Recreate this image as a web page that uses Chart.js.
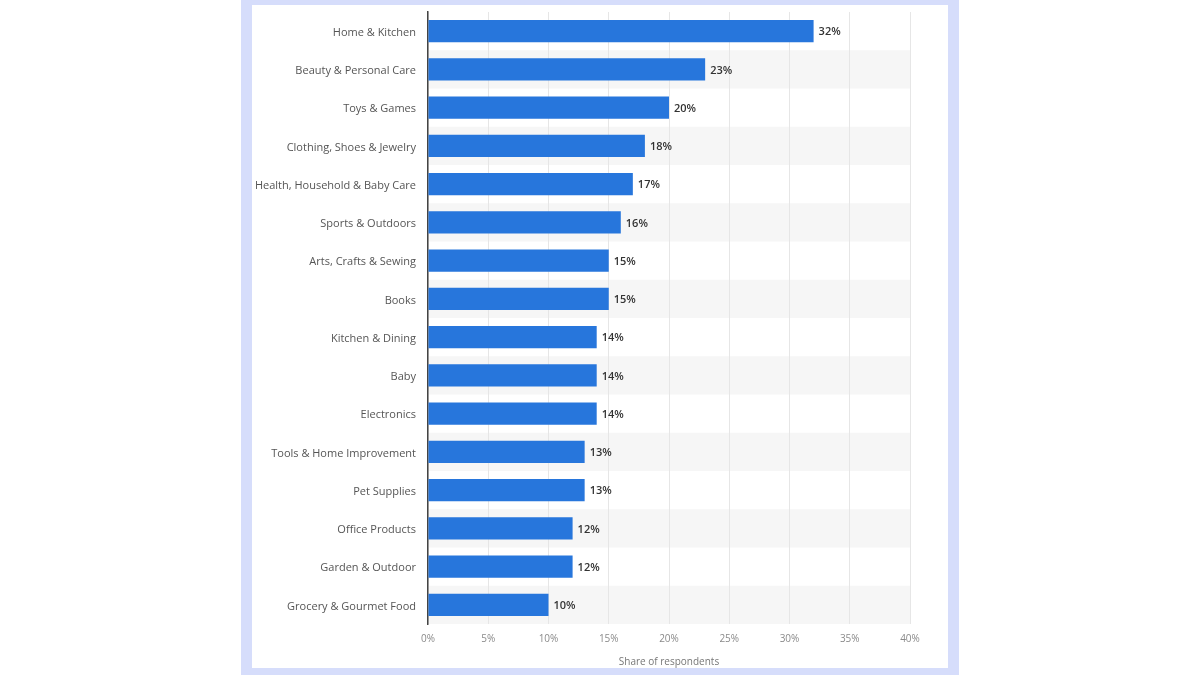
<!DOCTYPE html>
<html lang="en">
<head>
<meta charset="UTF-8">
<script src="https://cdn.jsdelivr.net/npm/chart.js@4.4.1/dist/chart.umd.min.js"></script>
<title>Share of respondents</title>
<style>
  html, body { margin: 0; padding: 0; background: #ffffff; }
  body { width: 1200px; height: 675px; position: relative; overflow: hidden; }
  #frame { position: absolute; left: 241px; top: 0; width: 718px; height: 675px; background: #d6ddfb; }
  #panel { position: absolute; left: 11px; top: 5px; width: 696px; height: 663px; background: #ffffff; }
</style>
</head>
<body>
<div id="frame">
  <div id="panel">
    <canvas id="chart" width="696" height="663"></canvas>
  </div>
</div>
<script>
// categories and values
const categories = [
  'Home & Kitchen', 'Beauty & Personal Care', 'Toys & Games', 'Clothing, Shoes & Jewelry',
  'Health, Household & Baby Care', 'Sports & Outdoors', 'Arts, Crafts & Sewing', 'Books',
  'Kitchen & Dining', 'Baby', 'Electronics', 'Tools & Home Improvement',
  'Pet Supplies', 'Office Products', 'Garden & Outdoor', 'Grocery & Gourmet Food'
];
const shares = [32, 23, 20, 18, 17, 16, 15, 15, 14, 14, 14, 13, 13, 12, 12, 10];
const xTicks = [0, 5, 10, 15, 20, 25, 30, 35, 40];

// light grey stripe behind every second row
const stripes = {
  id: 'stripes',
  beforeDraw(chart) {
    const { ctx, chartArea, scales } = chart;
    const y = scales.y;
    const step = y.getPixelForValue(1) - y.getPixelForValue(0);
    ctx.save();
    ctx.fillStyle = '#f6f6f6';
    categories.forEach((c, i) => {
      if (i % 2 === 1) {
        const cy = y.getPixelForValue(i);
        ctx.fillRect(chartArea.left, cy - step / 2, chartArea.right - chartArea.left, step);
      }
    });
    ctx.restore();
  }
};

// value labels at the end of each bar
const valueLabels = {
  id: 'valueLabels',
  afterDatasetsDraw(chart) {
    const { ctx } = chart;
    const meta = chart.getDatasetMeta(0);
    ctx.save();
    ctx.font = '600 11px "Open Sans"';
    ctx.fillStyle = '#333333';
    ctx.textBaseline = 'middle';
    ctx.textAlign = 'left';
    meta.data.forEach((bar, i) => {
      ctx.fillText(shares[i] + '%', bar.x + 5, bar.y + 1);
    });
    ctx.restore();
  }
};

new Chart(document.getElementById('chart'), {
  type: 'bar',
  data: {
    labels: categories,
    datasets: [{
      data: shares,
      backgroundColor: '#2776dc',
      borderWidth: 0,
      categoryPercentage: 0.58,
      barPercentage: 1
    }]
  },
  options: {
    indexAxis: 'y',
    responsive: false,
    animation: false,
    layout: { padding: { top: 7, right: 38, bottom: 0, left: 0 } },
    plugins: {
      legend: { display: false },
      tooltip: { enabled: false }
    },
    scales: {
      x: {
        min: 0,
        max: 40,
        afterBuildTicks(scale) { scale.ticks = xTicks.map(v => ({ value: v })); },
        afterFit(scale) { scale.height = 44; scale.paddingLeft = 0; scale.paddingRight = 0; },
        grid: { color: '#e6e6e6', drawTicks: false },
        border: { display: false },
        ticks: {
          padding: 9,
          color: '#8a8a8a',
          font: { family: 'Open Sans', size: 10 },
          callback: v => v + '%'
        },
        title: {
          display: true,
          text: 'Share of respondents',
          color: '#777777',
          font: { family: 'Open Sans', size: 10 },
          padding: { top: 6, bottom: 0 }
        }
      },
      y: {
        afterFit(scale) { scale.width = 176; scale.paddingTop = 0; scale.paddingBottom = 0; },
        grid: { display: false, drawTicks: false },
        border: { display: true, color: '#444444', width: 1.5 },
        ticks: {
          padding: 12,
          labelOffset: 1.5,
          color: '#555555',
          font: { family: 'Open Sans', size: 11 }
        }
      }
    }
  },
  plugins: [stripes, valueLabels]
});
</script>
</body>
</html>
